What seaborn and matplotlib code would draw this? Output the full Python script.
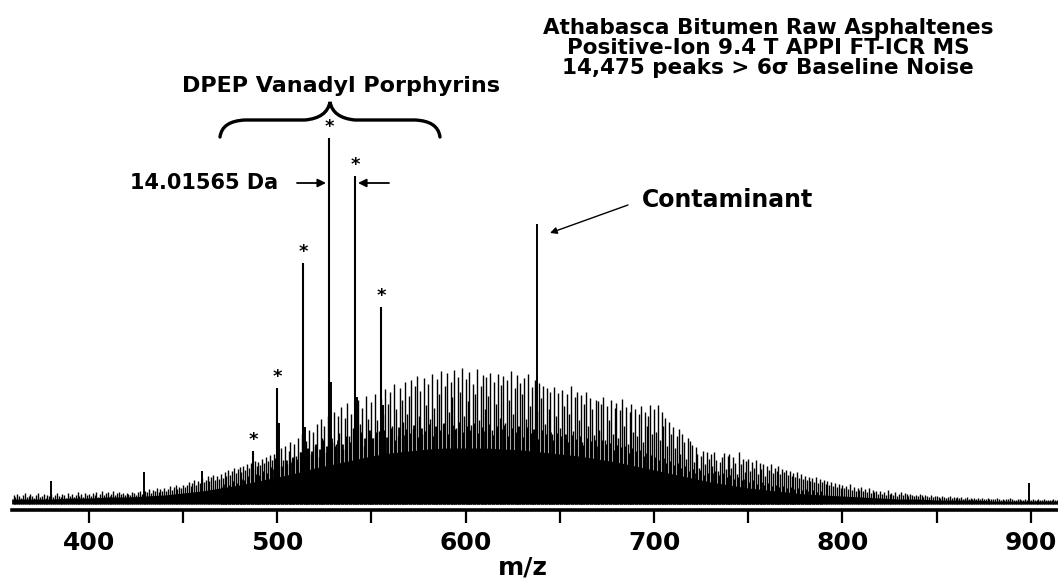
import numpy as np
import matplotlib
matplotlib.use("Agg")
import matplotlib.pyplot as plt
from matplotlib.path import Path
from matplotlib.patches import PathPatch
import seaborn as sns

sns.set_theme(style="white")
plt.rcParams['font.family'] = ['DejaVu Sans']
plt.rcParams['text.color'] = 'black'
plt.rcParams['axes.labelcolor'] = 'black'
plt.rcParams['xtick.color'] = 'black'

# tallest line at each nominal mass, m/z 360..914 (intensity in arbitrary units)
mz_start = 360
tall = [
    9, 7, 10, 8, 6, 9, 11, 7, 8, 10,        # 360
    8, 6, 9, 11, 7, 8, 10, 6, 9, 8,         # 370
    10, 7, 9, 11, 8, 7, 10, 9, 6, 11,       # 380
    8, 10, 7, 9, 12, 8, 10, 7, 11, 9,       # 390
    10, 8, 11, 9, 12, 7, 10, 13, 9, 11,     # 400
    12, 8, 10, 13, 9, 11, 12, 10, 11, 9,    # 410
    11, 10, 9, 12, 11, 9, 12, 13, 10, 11,   # 420
    13, 12, 15, 11, 14, 13, 16, 12, 15, 13, # 430
    16, 13, 15, 18, 14, 17, 19, 15, 17, 16, # 440
    19, 17, 19, 22, 18, 21, 24, 19, 23, 21, # 450
    26, 22, 24, 28, 23, 27, 29, 24, 28, 25, # 460
    30, 26, 32, 28, 34, 29, 33, 36, 31, 35, # 470
    37, 32, 38, 34, 40, 36, 41, 35, 43, 38, # 480
    42, 39, 45, 41, 47, 43, 49, 44, 50, 46, # 490
    50, 38, 56, 44, 58, 40, 53, 62, 45, 60, # 500
    48, 66, 52, 70, 44, 63, 55, 74, 50, 72, # 510
    58, 80, 47, 85, 66, 78, 52, 88, 70, 62, # 520
    92, 60, 88, 71, 97, 55, 86, 101, 68, 90,       # 530
    76, 99, 62, 104, 80, 96, 58, 108, 85, 70,      # 540
    102, 66, 110, 84, 73, 105, 90, 115, 64, 100,   # 550
    112, 78, 120, 95, 68, 116, 104, 82, 122, 90,   # 560
    108, 124, 75, 118, 128, 88, 113, 70, 126, 99,  # 570
    120, 85, 130, 96, 72, 125, 110, 133, 80, 118,  # 580
    131, 92, 122, 107, 134, 76, 127, 112, 136, 88, # 590
    125, 103, 132, 79, 120, 110, 135, 84, 118, 129,  # 600
    95, 127, 108, 131, 74, 122, 100, 130, 86, 119,   # 610
    128, 81, 124, 104, 133, 90, 116, 129, 77, 121,   # 620
    110, 126, 85, 130, 98, 117, 72, 124, 93, 121,    # 630
    106, 118, 80, 116, 95, 112, 70, 117, 88, 111,    # 640
    76, 114, 98, 66, 110, 90, 118, 73, 107, 112,     # 650
    84, 109, 62, 100, 112, 78, 106, 95, 69, 104,     # 660
    103, 74, 100, 107, 64, 98, 84, 104, 70, 96,      # 670
    101, 66, 94, 105, 78, 97, 60, 92, 100, 72,       # 680
    95, 68, 90, 98, 62, 92, 78, 88, 99, 70,          # 690
    95, 72, 99, 64, 92, 78, 86, 58, 82, 70,          # 700
    77, 56, 68, 75, 50, 70, 62, 45, 66, 63,          # 710
    59, 42, 57, 50, 36, 48, 53, 40, 52, 45,          # 720
    50, 38, 52, 44, 33, 42, 47, 51, 35, 48,          # 730
    50, 36, 47, 41, 30, 52, 40, 45, 32, 43,          # 740
    45, 33, 42, 36, 44, 30, 41, 35, 40, 28,          # 750
    38, 34, 40, 31, 36, 33, 38, 30, 35, 32,          # 760
    34, 29, 33, 28, 31, 27, 32, 26, 30, 25,          # 770
    28, 24, 27, 23, 26, 22, 27, 21, 25, 22,          # 780
    24, 20, 23, 19, 22, 18, 21, 17, 20, 16,          # 790
    19, 16, 18, 15, 20, 14, 17, 13, 16, 14,          # 800
    17, 13, 15, 12, 16, 11, 14, 12, 13, 10,          # 810
    13, 10, 12, 9, 14, 10, 11, 9, 12, 8,             # 820
    10, 12, 9, 11, 10, 8, 10, 9, 8, 9,               # 830
    8, 10, 9, 7, 9, 8, 7, 9, 7, 8,                   # 840
    8, 7, 6, 8, 7, 6, 7, 8, 6, 7,                    # 850
    6, 7, 6, 7, 5, 6, 7, 5, 6, 5,                    # 860
    6, 5, 6, 5, 6, 5, 5, 6, 5, 5,                    # 870
    5, 5, 6, 5, 4, 5, 4, 5, 5, 6,                    # 880
    5, 4, 4, 5, 5, 4, 4, 5, 4, 5,                    # 890
    4, 5, 4, 4, 5, 4, 4, 5, 4, 4,                    # 900
    4, 4, 5, 4, 4,                                   # 910
]

# darker, shorter lines between the tall ones: m/z 470.5, 472.5 ... 788.5
mid_start = 470.5
mid = [
    17, 20, 19, 23, 21, 25, 24, 28, 26, 30,   # 470-489
    29, 33, 31, 37, 35, 40, 38, 44, 42, 47,   # 490-509
    45, 52, 48, 56, 53, 60, 55, 64, 58, 66,   # 510-529
    58, 64, 60, 68, 62, 70, 64, 72, 66, 74,   # 530-549
    66, 72, 62, 74, 67, 76, 64, 77, 69, 75,   # 550-569
    71, 79, 67, 76, 73, 80, 68, 78, 74, 81,   # 570-589
    70, 79, 75, 82, 72, 78, 74, 81, 71, 77,   # 590-609
    73, 80, 69, 78, 75, 79, 68, 76, 72, 78,   # 610-629
    67, 77, 71, 75, 65, 74, 70, 72, 64, 71,   # 630-649
    68, 70, 62, 69, 65, 68, 59, 66, 63, 64,   # 650-669
    58, 64, 60, 61, 54, 59, 57, 58, 51, 56,   # 670-689
    53, 54, 48, 51, 49, 47, 44, 46, 41, 43,   # 690-709
    39, 41, 36, 38, 33, 35, 31, 34, 29, 31,   # 710-729
    31, 33, 29, 31, 27, 29, 25, 27, 24, 25,   # 730-749
    22, 24, 20, 22, 19, 21, 18, 19, 17, 18,   # 750-769
    16, 17, 15, 16, 14, 15, 13, 14, 12, 13,   # 770-789
]

# solid unresolved floor under the grass
floor_mz = [359, 370, 380, 390, 400, 410, 420, 430, 440, 450, 460, 470, 480, 490,
            500, 510, 520, 530, 540, 550, 560, 570, 580, 590, 600, 610, 620, 630,
            640, 650, 660, 670, 680, 690, 700, 710, 720, 730, 740, 750, 760, 770,
            780, 790, 800, 810, 820, 830, 840, 850, 860, 870, 880, 890, 900, 915]
floor_int = [5, 5, 5, 6, 6, 7, 7, 8, 9, 11, 13, 16, 19, 23,
             27, 31, 36, 40, 44, 48, 51, 53, 55, 56, 56, 56, 55, 54,
             52, 50, 48, 45, 42, 38, 34, 30, 26, 22, 19, 16, 14, 12,
             10, 9, 8, 7, 6, 5, 5, 4, 4, 4, 3, 3, 3, 3]

# DPEP vanadyl porphyrin series (starred) and their 13C isotopes
star_mz = [487.1, 499.8, 513.6, 527.5, 541.3, 555.1]
star_int = [53, 116, 241, 366, 328, 197]
iso_mz = [500.8, 514.6, 528.5, 542.3, 556.1]
iso_int = [81, 77, 122, 107, 99]

# isolated spikes incl. the contaminant
spike_mz = [379.8, 429.2, 460.0, 637.9, 899.2]
spike_int = [23, 32, 33, 280, 21]

W, H = 1058, 580
fig = plt.figure(figsize=(W / 100, H / 100), dpi=100)
ax = fig.add_axes([12 / W, 1 - 510 / H, 1046 / W, 410 / H])

mz = np.arange(mz_start, mz_start + len(tall))
mz_mid = mid_start + 2 * np.arange(len(mid))
ax.fill_between(floor_mz, 0, floor_int, color='black', lw=0)
ax.vlines(mz, 0, tall, color='black', lw=1.0)
ax.vlines(mz_mid, 0, mid, color='black', lw=2.0)
ax.vlines(iso_mz, 0, iso_int, color='black', lw=1.4)
ax.vlines(spike_mz, 0, spike_int, color='black', lw=1.4)
ax.vlines(star_mz, 0, star_int, color='black', lw=1.5)
for m, v in zip(star_mz, star_int):
    ax.text(m, v + 2, '*', ha='center', va='bottom', fontsize=13, fontweight='bold')

ax.set_xlim(359.2, 914.4)
ax.set_ylim(-6, 404)

sns.despine(ax=ax, left=True, top=True, right=True)
ax.spines['bottom'].set_linewidth(2.6)
ax.spines['bottom'].set_color('black')
ax.set_yticks([])
ax.set_xticks([400, 500, 600, 700, 800, 900])
ax.set_xticks([450, 550, 650, 750, 850], minor=True)
ax.tick_params(axis='x', which='both', direction='out', length=9, width=1.6,
               color='black', bottom=True, pad=6)
ax.tick_params(axis='x', which='major', labelsize=18)
for lab in ax.get_xticklabels():
    lab.set_fontweight('bold')
ax.set_xlabel('m/z', fontsize=18, fontweight='bold', labelpad=0)
ax.xaxis.set_label_coords((523 - 12) / 1046, -0.112)

# title block
for i, line in enumerate(['Athabasca Bitumen Raw Asphaltenes',
                          'Positive-Ion 9.4 T APPI FT-ICR MS',
                          '14,475 peaks > 6\u03c3 Baseline Noise']):
    fig.text(768 / W, 1 - (28 + 20 * i) / H, line, ha='center', va='center',
             fontsize=15.5, fontweight='bold')

fig.text(341 / W, 1 - 86 / H, 'DPEP Vanadyl Porphyrins', ha='center', va='center',
         fontsize=16, fontweight='bold')


# curly brace over the porphyrin series (figure pixel coords)
def px(x, y):
    return (x / W, 1 - y / H)


verts = [px(220, 137), px(222, 121), px(245, 120),
         px(305, 120), px(327, 118), px(330, 102),
         px(333, 118), px(355, 120),
         px(415, 120), px(438, 121), px(440, 137)]
codes = [Path.MOVETO, Path.CURVE3, Path.CURVE3,
         Path.LINETO, Path.CURVE3, Path.CURVE3,
         Path.CURVE3, Path.CURVE3,
         Path.LINETO, Path.CURVE3, Path.CURVE3]
fig.patches.append(PathPatch(Path(verts, codes), transform=fig.transFigure,
                             fill=False, lw=2.4, color='black', capstyle='round'))

fig.text(130 / W, 1 - 183 / H, '14.01565 Da', ha='left', va='center',
         fontsize=15, fontweight='bold')
arrow = dict(arrowstyle='-|>', color='black', lw=1.3, mutation_scale=12, shrinkA=0, shrinkB=0)
ax.annotate('', xy=px(326, 183), xytext=px(297, 183), xycoords='figure fraction',
            textcoords='figure fraction', arrowprops=arrow, annotation_clip=False)
ax.annotate('', xy=px(358, 183), xytext=px(389, 183), xycoords='figure fraction',
            textcoords='figure fraction', arrowprops=arrow, annotation_clip=False)

fig.text(642 / W, 1 - 200 / H, 'Contaminant', ha='left', va='center',
         fontsize=17, fontweight='bold')
arrow2 = dict(arrowstyle='-|>', color='black', lw=1.0, mutation_scale=10, shrinkA=0, shrinkB=0)
ax.annotate('', xy=px(550, 233), xytext=px(628, 205), xycoords='figure fraction',
            textcoords='figure fraction', arrowprops=arrow2, annotation_clip=False)

fig.savefig('out.png', dpi=100)
